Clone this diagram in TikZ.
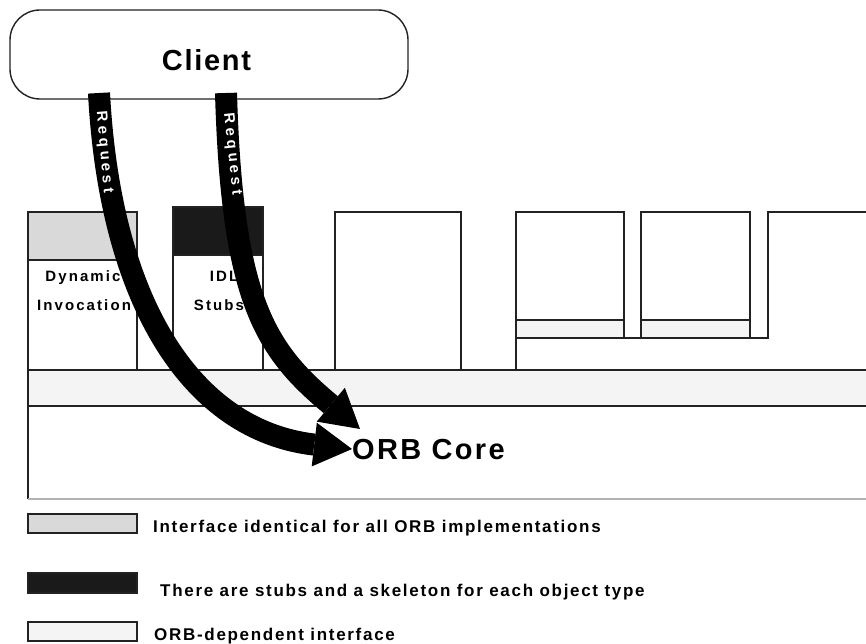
\documentclass[tikz,border=0pt]{standalone}
\usepackage{fontspec}
\setmainfont{Liberation Sans}
\usepackage{tikz}
\usetikzlibrary{arrows.meta,positioning,calc}
\definecolor{idgray}{HTML}{D9D9D9}
\definecolor{stubc}{HTML}{1A1A1A}
\definecolor{depc}{HTML}{F4F4F4}
\definecolor{edgec}{HTML}{222222}
\tikzset{
  box/.style={draw=edgec,line width=1.4pt},
  req/.style={line width=22pt,black,-{Triangle[length=38pt,width=44pt,line width=0pt]}},
  reqtxt/.style={white,inner sep=0pt,font=\bfseries\fontsize{15}{15}\selectfont\addfontfeature{LetterSpace=25}},
  big/.style={inner sep=0pt,font=\bfseries\fontsize{29}{30}\selectfont\addfontfeature{LetterSpace=6}},
  corelbl/.style={inner sep=0pt,font=\bfseries\fontsize{29}{30}\selectfont\addfontfeature{LetterSpace=8}},
  small/.style={inner sep=0pt,font=\bfseries\fontsize{15}{15}\selectfont\addfontfeature{LetterSpace=14}},
  leg/.style={inner sep=0pt,font=\bfseries\fontsize{17}{17}\selectfont\addfontfeature{LetterSpace=10}}
}
\begin{document}
\begin{tikzpicture}[x=1pt,y=-1pt]
\clip (0,0) rectangle (866,644);
\fill[white] (0,0) rectangle (866,644);
% client
\node[box,rounded corners=30pt,minimum width=398pt,minimum height=89pt,inner sep=0pt] (client) at (209,54.5) {};
\node[big,anchor=base] (clientlbl) at (206.5,71) {Client};
% dynamic invocation
\draw[box,fill=idgray] (28,212) rectangle (137,260);
\draw[box] (28,260) rectangle (137,370);
\node[small,anchor=base] (dyn1) at (83,281) {Dynamic};
\node[small,anchor=base] (dyn2) at (84,310) {Invocation};
% idl stubs
\draw[box,fill=stubc] (173,207) rectangle (263,255);
\draw[box] (173,255) rectangle (263,370);
\node[small,anchor=base] (idl1) at (224,281) {IDL};
\node[small,anchor=base] (idl2) at (219,310) {Stubs};
% empty blocks
\draw[box] (335,370) -- (335,212) -- (461,212) -- (461,370);
\draw[box] (516,370) -- (516,212) -- (624,212) -- (624,338);
\draw[box,fill=depc] (516,320) rectangle (624,338);
\draw[box] (641,338) -- (641,212) -- (750,212) -- (750,338);
\draw[box,fill=depc] (641,320) rectangle (750,338);
\draw[box] (516,338) -- (768,338) -- (768,212) -- (880,212);
% strip and core
\draw[box,fill=depc] (28,370) rectangle (880,406);
\draw[box] (28,406) -- (28,499);
\draw[gray!60,line width=1.4pt] (28,499) -- (880,499);
\node[corelbl,anchor=base west] (core) at (352,459) {ORB Core};
% requests
\coordinate (req1) at (99,93);
\coordinate (req2) at (226,93);
\coordinate (hit2) at (360,429);
\draw[req] (req1) .. controls (110,300) and (190,430) .. (core.west);
\draw[req] (req2) .. controls (232,300) and (265,350) .. (hit2);
\node[reqtxt,rotate=-85] (rq1) at (104,152) {Request};
\node[reqtxt,rotate=-84] (rq2) at (232,154) {Request};
% legend
\draw[box,fill=idgray] (28,514) rectangle (137,533);
\node[leg,anchor=base west] (leg1) at (153,532) {Interface identical for all ORB implementations};
\draw[box,fill=stubc] (28,573) rectangle (137,593);
\node[leg,anchor=base west] (leg2) at (160,596) {There are stubs and a skeleton for each object type};
\draw[box,fill=depc] (28,622) rectangle (137,641);
\node[leg,anchor=base west] (leg3) at (154,640) {ORB-dependent interface};
\end{tikzpicture}
\end{document}
